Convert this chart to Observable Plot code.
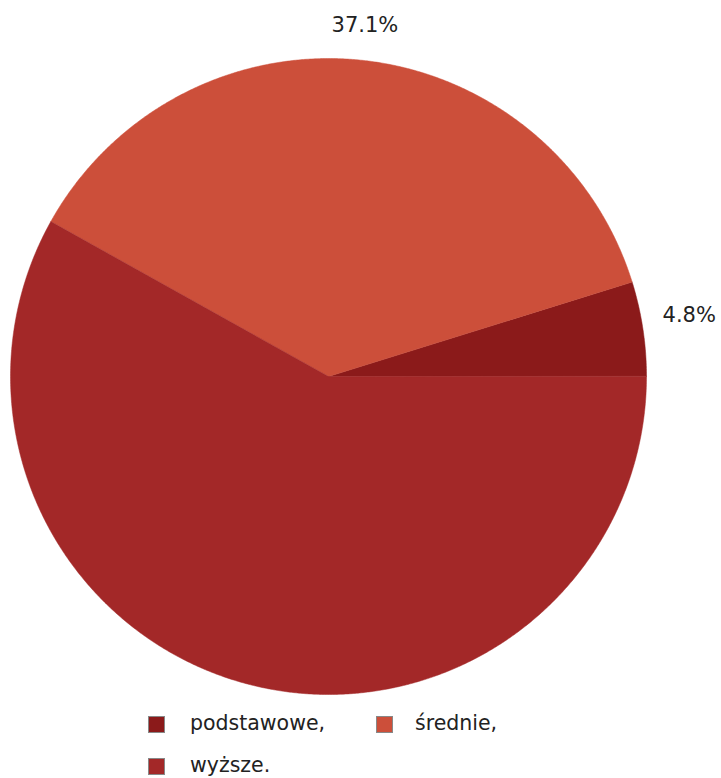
<!DOCTYPE html>
<html>
<head>
<meta charset="utf-8">
<script src="https://cdn.jsdelivr.net/npm/d3@7"></script>
<script src="https://cdn.jsdelivr.net/npm/@observablehq/plot@0.6"></script>
<style>
  body { margin: 0; background: #fff; font-family: "DejaVu Sans", sans-serif; }
  #wrap { position: relative; width: 721px; height: 778px; }
  #legend { position: absolute; left: 0; top: 0; width: 721px; height: 778px; pointer-events: none; }
  .item { position: absolute; font-size: 20.5px; color: #222; line-height: 20px; }
  .sw { position: absolute; width: 15px; height: 15px; border: 1px solid #888; }
</style>
</head>
<body>
<div id="wrap"><div id="chart"></div><div id="legend"></div></div>
<script>
const categories = ["podstawowe,", "średnie,", "wyższe."];
const values = [4.8, 37.1, 58.1];
const colors = ["#8b1a1a", "#cc4f3a", "#a32828"];
const labelShown = [true, true, false];

const cx = 328, cy = 376, R = 318, labelR = 351;
const total = d3.sum(values);
let acc = 0;
const slices = categories.map((c, i) => {
  const a0 = acc / total * 2 * Math.PI;
  acc += values[i];
  const a1 = acc / total * 2 * Math.PI;
  const n = Math.max(4, Math.ceil((a1 - a0) / 0.005));
  const ring = [[cx, cy]];
  for (let k = 0; k <= n; k++) {
    const a = a0 + (a1 - a0) * k / n;
    ring.push([cx + R * Math.cos(a), cy - R * Math.sin(a)]);
  }
  ring.push([cx, cy]);
  const mid = (a0 + a1) / 2;
  // push labels near the horizontal axis a little further out
  const extra = 14 * Math.abs(Math.cos(mid));
  return {
    type: "Feature",
    properties: {cat: c, value: values[i], color: colors[i], show: labelShown[i],
      lx: cx + (labelR + extra) * Math.cos(mid), ly: cy - (labelR + extra) * Math.sin(mid) - 6 * Math.abs(Math.cos(mid))},
    geometry: {type: "Polygon", coordinates: [ring]}
  };
});

const labels = slices.filter(s => s.properties.show).map(s => ({
  x: s.properties.lx, y: s.properties.ly, text: s.properties.value.toFixed(1) + "%"
}));

const plot = Plot.plot({
  width: 721,
  height: 705,
  margin: 0,
  projection: {type: "identity"},
  style: {fontFamily: "DejaVu Sans, sans-serif", background: "#fff"},
  marks: [
    Plot.geo(slices, {fill: d => d.properties.color, stroke: d => d.properties.color, strokeWidth: 0.5}),
    Plot.text(labels, {x: "x", y: "y", text: "text", fontSize: 21, fill: "#222", textAnchor: "middle"})
  ]
});
document.getElementById("chart").appendChild(plot);

// legend
const legendPos = [
  {sx: 148, sy: 716, tx: 190, ty: 713},
  {sx: 376, sy: 716, tx: 415, ty: 713},
  {sx: 148, sy: 758, tx: 190, ty: 755}
];
const leg = document.getElementById("legend");
categories.forEach((c, i) => {
  const p = legendPos[i];
  const sw = document.createElement("div");
  sw.className = "sw";
  sw.style.left = p.sx + "px"; sw.style.top = p.sy + "px";
  sw.style.background = colors[i];
  leg.appendChild(sw);
  const t = document.createElement("div");
  t.className = "item";
  t.style.left = p.tx + "px"; t.style.top = p.ty + "px";
  t.textContent = c;
  leg.appendChild(t);
});
</script>
</body>
</html>
